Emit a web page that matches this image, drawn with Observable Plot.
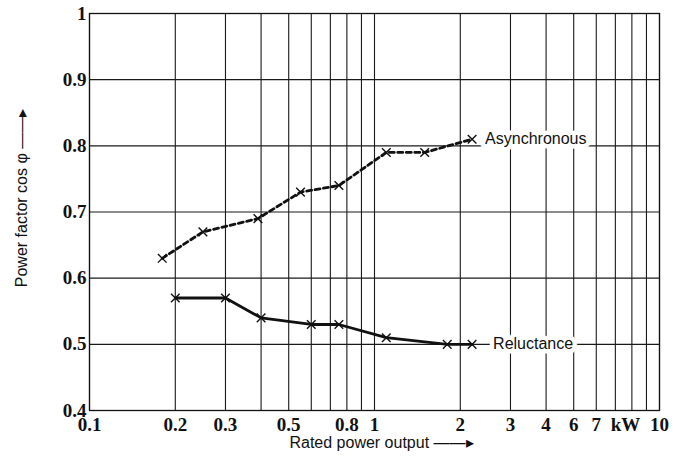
<!DOCTYPE html>
<html><head><meta charset="utf-8">
<script src="https://cdn.jsdelivr.net/npm/d3@7"></script>
<script src="https://cdn.jsdelivr.net/npm/@observablehq/plot@0.6"></script>
<style>
html,body{margin:0;padding:0;background:#fff;}
</style></head><body><div id="chart"></div>
<script>
// Series (rated power output in kW, power factor cos φ)
const asyncPower = [0.18, 0.25, 0.39, 0.55, 0.75, 1.1, 1.5, 2.2];
const asyncPF    = [0.63, 0.67, 0.69, 0.73, 0.74, 0.79, 0.79, 0.81];
const relPower   = [0.2, 0.3, 0.4, 0.6, 0.75, 1.1, 1.8, 2.2];
const relPF      = [0.57, 0.57, 0.54, 0.53, 0.53, 0.51, 0.50, 0.50];
const seriesNames = ["Asynchronous", "Reluctance"];

// Axes
const xGrid = [0.1,0.2,0.3,0.4,0.5,0.6,0.7,0.8,0.9,1,2,3,4,5,6,7,8,9,10];
const yTicks = [0.4,0.5,0.6,0.7,0.8,0.9,1];
const xTickPos = [0.1,0.2,0.3,0.5,0.8,1,2,3,4,5,6,7.6,10];
const xTickLabels = ["0.1","0.2","0.3","0.5","0.8","1","2","3","4","6","7","kW","10"];
const xTitle = "Rated power output \u2014\u2014\u25B8";
const yTitle = "Power factor cos \u03C6 \u2014\u2014\u25B8";

const asyncData = asyncPower.map((x, i) => ({x, y: asyncPF[i]}));
const relData = relPower.map((x, i) => ({x, y: relPF[i]}));
const xTickData = xTickPos.map((x, i) => ({x, label: xTickLabels[i]}));

const ink = "#111";
const serif = "'Liberation Serif', 'Times New Roman', serif";
const sans = "'Liberation Sans', Arial, sans-serif";

const chart = Plot.plot({
  width: 675, height: 460,
  marginTop: 13, marginRight: 16, marginBottom: 50, marginLeft: 89,
  style: {fontFamily: serif, fontSize: "19px", color: ink, background: "#fff"},
  x: {type: "log", domain: [0.1, 10], axis: null},
  y: {domain: [0.4, 1]},
  marks: [
    Plot.gridX(xGrid, {stroke: "#1a1a1a", strokeOpacity: 1, strokeWidth: 1.1}),
    Plot.gridY(yTicks, {stroke: "#1a1a1a", strokeOpacity: 1, strokeWidth: 1.1}),
    Plot.frame({stroke: ink, strokeWidth: 1.3}),
    Plot.axisY(yTicks, {tickSize: 0, tickPadding: 3, tickFormat: d => String(d), label: null, fontWeight: "bold", fontSize: 19}),
    Plot.text(xTickData, {x: "x", text: "label", frameAnchor: "bottom", lineAnchor: "top", textAnchor: "middle", dy: 7, fontWeight: "bold", fontSize: 19, fontFamily: serif, fill: ink}),
    Plot.line(asyncData, {x: "x", y: "y", stroke: ink, strokeWidth: 2.8, strokeDasharray: "5,3.5"}),
    Plot.dot(asyncData, {x: "x", y: "y", symbol: "times", r: 4, stroke: ink, strokeWidth: 1.4}),
    Plot.line(relData, {x: "x", y: "y", stroke: ink, strokeWidth: 2.8}),
    Plot.dot(relData, {x: "x", y: "y", symbol: "times", r: 4, stroke: ink, strokeWidth: 1.4}),
    Plot.text(asyncData.slice(-1), {x: "x", y: "y", text: () => seriesNames[0], textAnchor: "start", dx: 13, fontFamily: sans, fontSize: 16, fill: ink, stroke: "white", strokeWidth: 9, paintOrder: "stroke"}),
    Plot.text(relData.slice(-1), {x: "x", y: "y", text: () => seriesNames[1], textAnchor: "start", dx: 21, fontFamily: sans, fontSize: 16, fill: ink, stroke: "white", strokeWidth: 9, paintOrder: "stroke"}),
    Plot.text([xTitle], {text: d => d, frameAnchor: "bottom", textAnchor: "middle", dx: 7, dy: 37, fontFamily: sans, fontSize: 16, fill: ink}),
    Plot.text([yTitle], {text: d => d, frameAnchor: "left", textAnchor: "middle", dx: -68, dy: -14, rotate: -90, fontFamily: sans, fontSize: 16, fill: ink})
  ]
});
document.getElementById("chart").appendChild(chart);
</script>
</body></html>
